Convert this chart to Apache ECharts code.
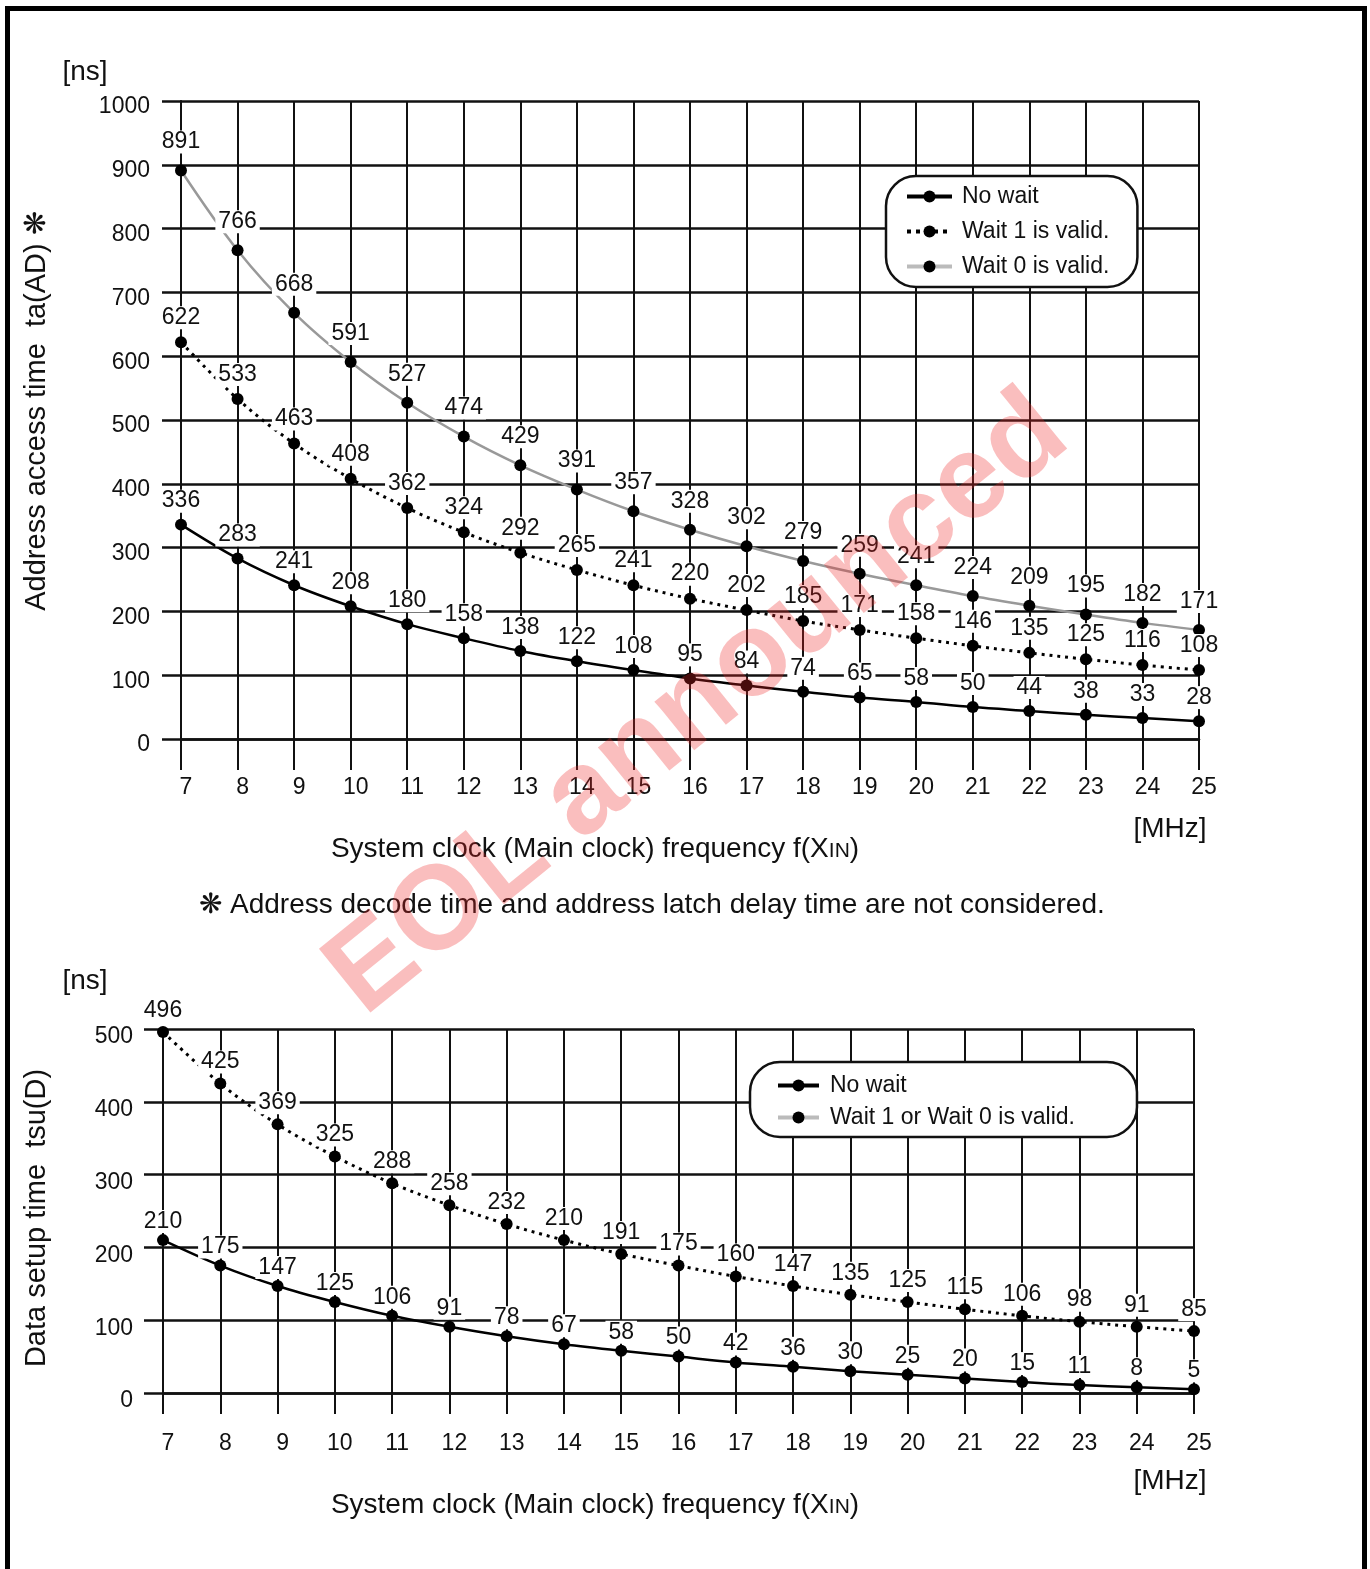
<!DOCTYPE html>
<html><head><meta charset="utf-8">
<script src="https://cdn.jsdelivr.net/npm/echarts@6/dist/echarts.min.js"></script>
<style>html,body{margin:0;padding:0;background:#fff}#c{width:1370px;height:1569px}</style>
</head><body><div id="c"></div>
<script>
// ---- data ----
const freq = [7, 8, 9, 10, 11, 12, 13, 14, 15, 16, 17, 18, 19, 20, 21, 22, 23, 24, 25];
const accessNoWait = [336, 283, 241, 208, 180, 158, 138, 122, 108, 95, 84, 74, 65, 58, 50, 44, 38, 33, 28];
const accessWait1  = [622, 533, 463, 408, 362, 324, 292, 265, 241, 220, 202, 185, 171, 158, 146, 135, 125, 116, 108];
const accessWait0  = [891, 766, 668, 591, 527, 474, 429, 391, 357, 328, 302, 279, 259, 241, 224, 209, 195, 182, 171];
const setupNoWait  = [210, 175, 147, 125, 106, 91, 78, 67, 58, 50, 42, 36, 30, 25, 20, 15, 11, 8, 5];
const setupWait    = [496, 425, 369, 325, 288, 258, 232, 210, 191, 175, 160, 147, 135, 125, 115, 106, 98, 91, 85];
const accessLegend = ['No wait', 'Wait 1 is valid.', 'Wait 0 is valid.'];
const setupLegend  = ['No wait', 'Wait 1 or Wait 0 is valid.'];

const FONT = '"Liberation Sans", Arial, Helvetica, sans-serif';
const INK = '#111';
const pairs = vals => freq.map((f, i) => [f, vals[i]]);

function xAxisFor(gi, tickLen, margin) {
  return {
    type: 'value', gridIndex: gi, min: 7, max: 25, interval: 1,
    axisLine: { show: true, onZero: false, lineStyle: { color: INK, width: 2.5 } },
    axisTick: { show: true, inside: false, length: tickLen, lineStyle: { color: INK, width: 2 } },
    axisLabel: { show: true, margin: margin, color: INK, fontSize: 23, fontFamily: FONT, padding: [0, 0, 0, 10] },
    splitLine: { show: true, lineStyle: { color: INK, width: 2 } }
  };
}
function yAxisFor(gi, max, margin, lh) {
  return {
    type: 'value', gridIndex: gi, min: 0, max: max, interval: 100,
    axisLine: { show: true, lineStyle: { color: INK, width: 2 } },
    axisTick: { show: true, inside: false, length: 19, lineStyle: { color: INK, width: 2.5 } },
    axisLabel: { show: true, margin: margin, color: INK, fontSize: 23, fontFamily: FONT,
                 verticalAlign: 'top', lineHeight: lh, formatter: v => String(v) },
    splitLine: { show: true, lineStyle: { color: INK, width: 2.5 } }
  };
}
function lab(dist) {
  return {
    show: true, position: 'top', distance: dist, color: INK, fontSize: 23, fontFamily: FONT,
    backgroundColor: '#fff', padding: [0, 3, 0, 3],
    formatter: p => String(p.value[1])
  };
}
function line(name, gi, vals, lineStyle, dist) {
  return {
    name: name, type: 'line', xAxisIndex: gi, yAxisIndex: gi, data: pairs(vals),
    smooth: 0.35, symbol: 'circle', symbolSize: 12,
    itemStyle: { color: '#000' }, lineStyle: lineStyle, label: lab(dist),
    emphasis: { disabled: true }, z: 3
  };
}
const solid = { color: '#000', width: 2.5, type: 'solid' };
const dotted = { color: '#000', width: 3, type: [3, 5] };
const gray = { color: '#999', width: 2.5, type: 'solid' };

const txt = (x, y, text, size, extra) => Object.assign({
  type: 'text', x: x, y: y, z: 50,
  style: Object.assign({ text: text, font: size + 'px ' + FONT, fill: INK, align: 'center', verticalAlign: 'middle' }, extra || {})
});
const sub = { rich: { s: { fontSize: 21, fontFamily: FONT, verticalAlign: 'bottom', padding: [0, 0, 1, 0] } } };

const option = {
  animation: false,
  backgroundColor: '#fff',
  grid: [
    { left: 181, top: 101, width: 1018, height: 638, outerBoundsMode: 'none' },
    { left: 163, top: 1029, width: 1031, height: 364, outerBoundsMode: 'none' }
  ],
  xAxis: [xAxisFor(0, 31, 37), xAxisFor(1, 21, 39)],
  yAxis: [yAxisFor(0, 1000, 31, 12), yAxisFor(1, 500, 30, 16)],
  legend: [
    {
      left: 886, top: 176, orient: 'vertical', selectedMode: false,
      backgroundColor: '#fff', borderColor: INK, borderWidth: 2.5, borderRadius: 30,
      padding: [9, 28, 9, 19], itemGap: 12, itemWidth: 45, itemHeight: 15,
      textStyle: { color: INK, fontSize: 23, fontFamily: FONT, padding: [0, 0, 0, 5] },
      data: [
        { name: accessLegend[0], lineStyle: { width: 4, color: '#000', type: 'solid' } },
        { name: accessLegend[1], lineStyle: { width: 4, color: '#000', type: [4, 5] } },
        { name: accessLegend[2], lineStyle: { width: 4, color: '#bbb', type: 'solid' } }
      ], z: 20
    },
    {
      left: 750, top: 1062, orient: 'vertical', selectedMode: false,
      backgroundColor: '#fff', borderColor: INK, borderWidth: 2.5, borderRadius: 30,
      padding: [12, 62, 8, 26], itemGap: 9, itemWidth: 41, itemHeight: 15,
      textStyle: { color: INK, fontSize: 23, fontFamily: FONT, padding: [0, 0, 0, 6] },
      data: [
        { name: setupLegend[0], lineStyle: { width: 4, color: '#000', type: 'solid' } },
        { name: setupLegend[1], lineStyle: { width: 4, color: '#bbb', type: 'solid' }, itemStyle: { color: '#000' } }
      ], z: 20
    }
  ],
  series: [
    line(accessLegend[2], 0, accessWait0, gray, 11),
    line(accessLegend[1], 0, accessWait1, dotted, 7),
    line(accessLegend[0], 0, accessNoWait, solid, 6),
    line(setupLegend[1], 1, setupWait, dotted, 4),
    line(setupLegend[0], 1, setupNoWait, solid, 1)
  ],
  graphic: [
    { type: 'rect', z: 60, shape: { x: 7.5, y: 8.5, width: 1357, height: 1600 },
      style: { fill: 'none', stroke: '#000', lineWidth: 5 } },
    txt(85, 72, '[ns]', 28),
    txt(85, 981, '[ns]', 28),
    txt(37, 411, 'Address access time  ta(AD) ❋', 29),
    txt(37, 1218, 'Data setup time  tsu(D)', 29),
    txt(595, 849, 'System clock (Main clock) frequency f(X{s|IN})', 28, sub),
    txt(595, 1505, 'System clock (Main clock) frequency f(X{s|IN})', 28, sub),
    txt(1170, 829, '[MHz]', 28),
    txt(1170, 1481, '[MHz]', 28),
    txt(652, 905, '❋ Address decode time and address latch delay time are not considered.', 28),
    { type: 'text', x: 698, y: 705, rotation: 39 * Math.PI / 180, z: 100, silent: true,
      style: { text: 'EOL announced', font: 'bold 119px ' + FONT, fill: 'rgba(240,40,40,0.3)', align: 'center', verticalAlign: 'middle' } }
  ]
};
// rotate the two y-axis titles
option.graphic[3].rotation = Math.PI / 2;
option.graphic[4].rotation = Math.PI / 2;

const chart = echarts.init(document.getElementById('c'), null, { renderer: 'canvas' });
chart.setOption(option);
</script></body></html>
